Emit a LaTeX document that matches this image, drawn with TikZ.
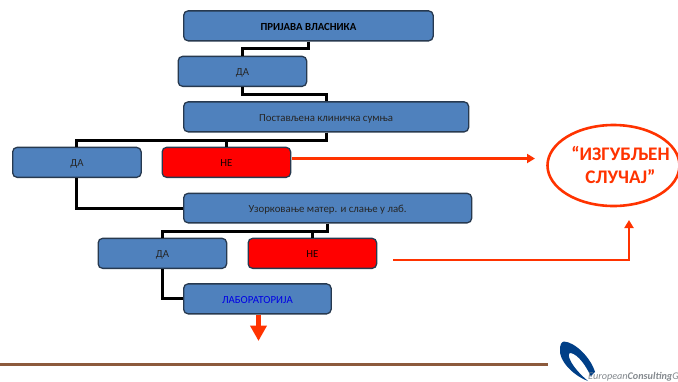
\documentclass[tikz,border=0pt]{standalone}
\usepackage{fontspec}
\setmainfont{Carlito}
\usetikzlibrary{arrows.meta,shapes.geometric}
\definecolor{boxblue}{HTML}{4F81BD}
\definecolor{boxline}{HTML}{27394F}
\definecolor{alarm}{HTML}{FF3300}
\definecolor{rulebrown}{HTML}{8C5A3C}
\definecolor{logoblue}{HTML}{003F87}
\definecolor{logogrey}{HTML}{858A8F}
\tikzset{
  x=1pt,y=-1pt,
  flowbox/.style={draw=boxline,line width=1.3pt,fill=boxblue,rounded corners=4.5pt,inner sep=0pt,font=\fontsize{10.8}{12}\selectfont,text=black!85,anchor=north west,text height=8.4pt,text depth=0pt},
  redbox/.style={flowbox,fill=red,text=black!90!red},
  link/.style={draw=black,line width=3pt,line join=miter},
  alarmline/.style={draw=alarm,line width=2.6pt,-{Triangle[length=8pt,width=9pt]}}
}
\begin{document}
\begin{tikzpicture}
\useasboundingbox (0,0) rectangle (678,381);
\clip (0,0) rectangle (678,381);
\fill[white] (0,0) rectangle (678,381);

\node[flowbox,minimum width=249.5pt,minimum height=30pt,font=\fontsize{10.8}{12}\selectfont\bfseries,text=black] (n1) at (183,10.2) {ПРИЈАВА ВЛАСНИКА};
\node[flowbox,minimum width=128.5pt,minimum height=30pt] (n2) at (177.5,55.7) {ДА};
\node[flowbox,minimum width=285pt,minimum height=30pt] (n3) at (183,101.2) {Постављена клиничка сумња};
\node[flowbox,minimum width=128.5pt,minimum height=30pt] (n4) at (12,146.7) {ДА};
\node[redbox,minimum width=128.5pt,minimum height=30pt] (n5) at (161.5,146.7) {НЕ};
\node[flowbox,minimum width=288pt,minimum height=29.5pt] (n6) at (183,192.7) {Узорковање матер. и слање у лаб.};
\node[flowbox,minimum width=128.5pt,minimum height=30pt] (n7) at (97.5,237.7) {ДА};
\node[redbox,minimum width=128.5pt,minimum height=30pt] (n8) at (247.5,237.7) {НЕ};
\node[flowbox,minimum width=147.5pt,minimum height=30pt,text=blue!90!black] (n9) at (183,283.2) {ЛАБОРАТОРИЈА};

\draw[link] (n1.south) -- ++(0,7) -| (n2.north);
\draw[link] (n2.south) -- ++(0,7) -| (n3.north);
\draw[link] (n3.south) -- ++(0,8) -| (n4.north);
\draw[link] (n3.south) -- ++(0,8) -| (n5.north);
\draw[link] (n4.south) |- (n6.west);
\draw[link] (n6.south) -- ++(0,7.5) -| (n7.north);
\draw[link] (n6.south) -- ++(0,7.5) -| (n8.north);
\draw[link] (n7.south) |- (n9.west);

\node[draw=alarm,line width=2.6pt,ellipse,minimum width=132pt,minimum height=81pt,inner sep=0pt] (lost) at (613.5,165.5) {};
\node[text=alarm,font=\fontsize{19.2}{23}\bfseries\selectfont,align=center,inner sep=0pt] (lostlabel) at (620.5,164.5) {“ИЗГУБЉЕН\\СЛУЧАЈ”};

\coordinate (a1s) at (292,158.5);
\coordinate (a1e) at (535,158.5);
\draw[alarmline] (a1s) -- (a1e);
\coordinate (a2s) at (393,260);
\coordinate (a2e) at (629,220);
\draw[alarmline] (a2s) -| (a2e);

\coordinate (dropE) at (258.5,341);
\draw[alarm,line width=5pt,-{Triangle[length=15.5pt,width=16pt]}] (n9.south -| dropE) -- (dropE);

\coordinate (ruleL) at (0,364.5);
\coordinate (ruleR) at (548,364.5);
\draw[rulebrown,line width=2.4pt] (ruleL) -- (ruleR);

% logo
\fill[logoblue] (564,341.5) .. controls (575,342) and (591,358) .. (595,372)
   .. controls (593,373) and (592,375) .. (591,377)
   .. controls (587,367) and (578,354) .. (570.5,353)
   .. controls (566,353) and (570,366) .. (588,381)
   .. controls (572,375) and (559,360) .. (560,350)
   .. controls (560,345) and (561,342) .. (564,341.5) -- cycle;
\node[anchor=base west,inner sep=0pt,font=\fontsize{10.2}{11}\itshape\selectfont,text=logogrey] (logotext) at (588,379) {European\textbf{Consulting}G};
\end{tikzpicture}
\end{document}
